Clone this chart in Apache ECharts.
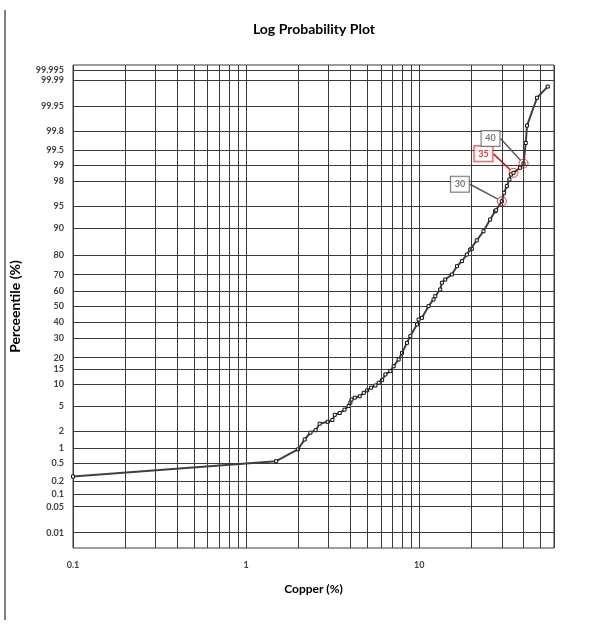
<!DOCTYPE html>
<html>
<head>
<meta charset="utf-8">
<script src="https://cdn.jsdelivr.net/npm/echarts@6.0.0/dist/echarts.min.js"></script>
<style>
  html, body { margin: 0; padding: 0; background: #fff; }
  #chart { width: 602px; height: 624px; }
</style>
</head>
<body>
<div id="chart"></div>
<script>
// sample values: copper grade (%) and its cumulative percentile (%)
const copper = [0.1, 1.49, 1.99, 2.18, 2.35, 2.52, 2.66, 2.96, 3.15, 3.25, 3.47, 3.70, 3.91, 4.00, 4.06,
  4.24, 4.53, 4.78, 5.00, 5.27, 5.58, 5.83, 6.10, 6.37, 6.81, 7.11, 7.60, 7.95, 8.49, 8.87, 9.70, 9.91, 10.36,
  11.31, 12.09, 12.37, 13.21, 13.51, 14.12, 15.43, 16.50, 17.63, 18.83, 19.68, 20.12, 21.50, 23.48, 25.66,
  27.42, 27.79, 30.0, 30.90, 32.03, 33.15, 33.91, 35.0, 38.20, 40.0, 41.2, 41.93, 47.87, 55.18];
const percentile = [0.26, 0.55, 0.94, 1.44, 1.9, 2.1, 2.7, 2.9, 3.1, 3.75, 4.0, 4.5, 5.1, 5.7, 6.3,
  6.7, 7.0, 7.8, 8.4, 9.1, 9.7, 10.5, 11.3, 13.2, 14.4, 16.3, 19.2, 22.3, 27.5, 31.3, 38.4, 41.5, 42.6,
  50.2, 54.6, 56.7, 61.0, 65.2, 67.1, 70.05, 74.6, 77.2, 80.36, 82.56, 82.84, 86.17, 89.2, 92.36,
  94.13, 94.31, 95.82, 96.92, 97.6, 98.16, 98.5, 98.6, 98.87, 99.06, 99.64, 99.853, 99.970, 99.985];

// cut-off grades marked with callouts
const calloutCopper = [30, 35, 40];
const calloutPercentile = [95.82, 98.6, 99.06];
const calloutText = ['30', '35', '40'];

// probability axis tick labels (%)
const yTicks = [0.01, 0.05, 0.1, 0.2, 0.5, 1, 2, 5, 10, 15, 20, 30, 40, 50, 60, 70, 80, 90, 95, 98,
  99, 99.5, 99.8, 99.95, 99.99, 99.995];
// log axis minor grid values
const xMinor = [0.2, 0.3, 0.4, 0.5, 0.6, 0.7, 0.8, 0.9, 2, 3, 4, 5, 6, 7, 8, 9, 20, 30, 40, 50];

// inverse normal CDF (Acklam) - maps a percentile onto the probability scale
function probit(pct) {
  const p = pct / 100;
  const a = [-39.69683028665376, 220.9460984245205, -275.9285104469687, 138.3577518672690, -30.66479806614716, 2.506628277459239];
  const b = [-54.47609879822406, 161.5858368580409, -155.6989798598866, 66.80131188771972, -13.28068155288572];
  const c = [-0.007784894002430293, -0.3223964580411365, -2.400758277161838, -2.549732539343734, 4.374664141464968, 2.938163982698783];
  const d = [0.007784695709041462, 0.3224671290700398, 2.445134137142996, 3.754408661907416];
  const pl = 0.02425;
  let q, r;
  if (p < pl) {
    q = Math.sqrt(-2 * Math.log(p));
    return (((((c[0] * q + c[1]) * q + c[2]) * q + c[3]) * q + c[4]) * q + c[5]) /
      ((((d[0] * q + d[1]) * q + d[2]) * q + d[3]) * q + 1);
  }
  if (p > 1 - pl) {
    q = Math.sqrt(-2 * Math.log(1 - p));
    return -(((((c[0] * q + c[1]) * q + c[2]) * q + c[3]) * q + c[4]) * q + c[5]) /
      ((((d[0] * q + d[1]) * q + d[2]) * q + d[3]) * q + 1);
  }
  q = p - 0.5;
  r = q * q;
  return (((((a[0] * r + a[1]) * r + a[2]) * r + a[3]) * r + a[4]) * r + a[5]) * q /
    (((((b[0] * r + b[1]) * r + b[2]) * r + b[3]) * r + b[4]) * r + 1);
}

const yTickZ = yTicks.map(probit);
const labelOffsets = [[-42, -17], [-30, -19], [-33, -25]];
const calloutColors = ['#595959', '#ff0000', '#595959'];

const chart = echarts.init(document.getElementById('chart'));
const font = 'Lato, "Open Sans", sans-serif';
const gridColor = '#3a3a3a';

const option = {
  backgroundColor: '#fff',
  animation: false,
  textStyle: { fontFamily: font },
  title: {
    text: 'Log Probability Plot',
    left: 309,
    textAlign: 'center',
    top: 17,
    textStyle: { fontSize: 14, fontWeight: 'bold', color: '#000', fontFamily: font }
  },
  grid: { left: 71, right: 48, top: 65, bottom: 76, show: true, borderColor: gridColor, borderWidth: 1 },
  xAxis: {
    type: 'log',
    logBase: 10,
    min: 0.1,
    max: 60,
    name: 'Copper (%)',
    nameLocation: 'middle',
    nameGap: 35,
    nameTextStyle: { fontSize: 12, fontWeight: 'bold', color: '#000' },
    axisLine: { show: false },
    axisTick: { show: false },
    axisLabel: { fontSize: 9, fontWeight: 'bold', color: '#404040', margin: 13, showMaxLabel: false },
    splitLine: { show: true, lineStyle: { color: gridColor, width: 1 } }
  },
  yAxis: {
    type: 'value',
    min: -3.97,
    max: 3.97,
    name: 'Perceentile (%)',
    nameLocation: 'middle',
    nameGap: 51,
    nameTextStyle: { fontSize: 14, fontWeight: 'bold', color: '#000' },
    axisLine: { show: false },
    axisTick: { show: false, customValues: yTickZ },
    axisLabel: {
      customValues: yTickZ,
      fontSize: 9,
      fontWeight: 'bold',
      color: '#404040',
      margin: 9,
      formatter: (v) => {
        let best = 0;
        yTickZ.forEach((z, i) => { if (Math.abs(z - v) < Math.abs(yTickZ[best] - v)) best = i; });
        return String(yTicks[best]);
      }
    },
    splitLine: { show: true, lineStyle: { color: gridColor, width: 1 } }
  },
  series: [
    {
      type: 'line',
      data: [],
      z: 1,
      silent: true,
      markLine: {
        silent: true,
        symbol: 'none',
        label: { show: false },
        lineStyle: { color: gridColor, width: 1, type: 'solid' },
        data: xMinor.map((v) => ({ xAxis: v }))
      }
    },
    {
      name: 'Copper',
      type: 'line',
      z: 3,
      data: copper.map((c, i) => [c, probit(percentile[i])]),
      symbol: 'rect',
      symbolSize: 3,
      itemStyle: { color: '#fff', borderColor: '#111', borderWidth: 1 },
      lineStyle: { color: '#404040', width: 2 }
    },
    {
      name: 'Cut-off',
      type: 'scatter',
      z: 4,
      symbol: 'circle',
      symbolSize: 9,
      itemStyle: { color: 'rgba(0,0,0,0)', borderColor: '#ff0000', borderWidth: 1 },
      data: calloutCopper.map((c, i) => ({
        value: [c, probit(calloutPercentile[i])],
        label: { color: calloutColors[i], borderColor: calloutColors[i] },
        labelLine: { lineStyle: { color: calloutColors[i] } }
      })),
      label: {
        show: true,
        position: 'inside',
        formatter: (p) => calloutText[p.dataIndex],
        fontSize: 9,
        fontWeight: 'bold',
        backgroundColor: '#fff',
        borderWidth: 1,
        padding: [3, 3],
        width: 12,
        align: 'center'
      },
      labelLine: { show: true, lineStyle: { width: 1.5 } },
      labelLayout: (params) => ({ dx: labelOffsets[params.dataIndex][0], dy: labelOffsets[params.dataIndex][1] })
    }
  ],
  graphic: [
    { type: 'line', shape: { x1: 5, y1: 10, x2: 5, y2: 620 }, style: { stroke: '#000', lineWidth: 1 } }
  ]
};

chart.setOption(option);
</script>
</body>
</html>
